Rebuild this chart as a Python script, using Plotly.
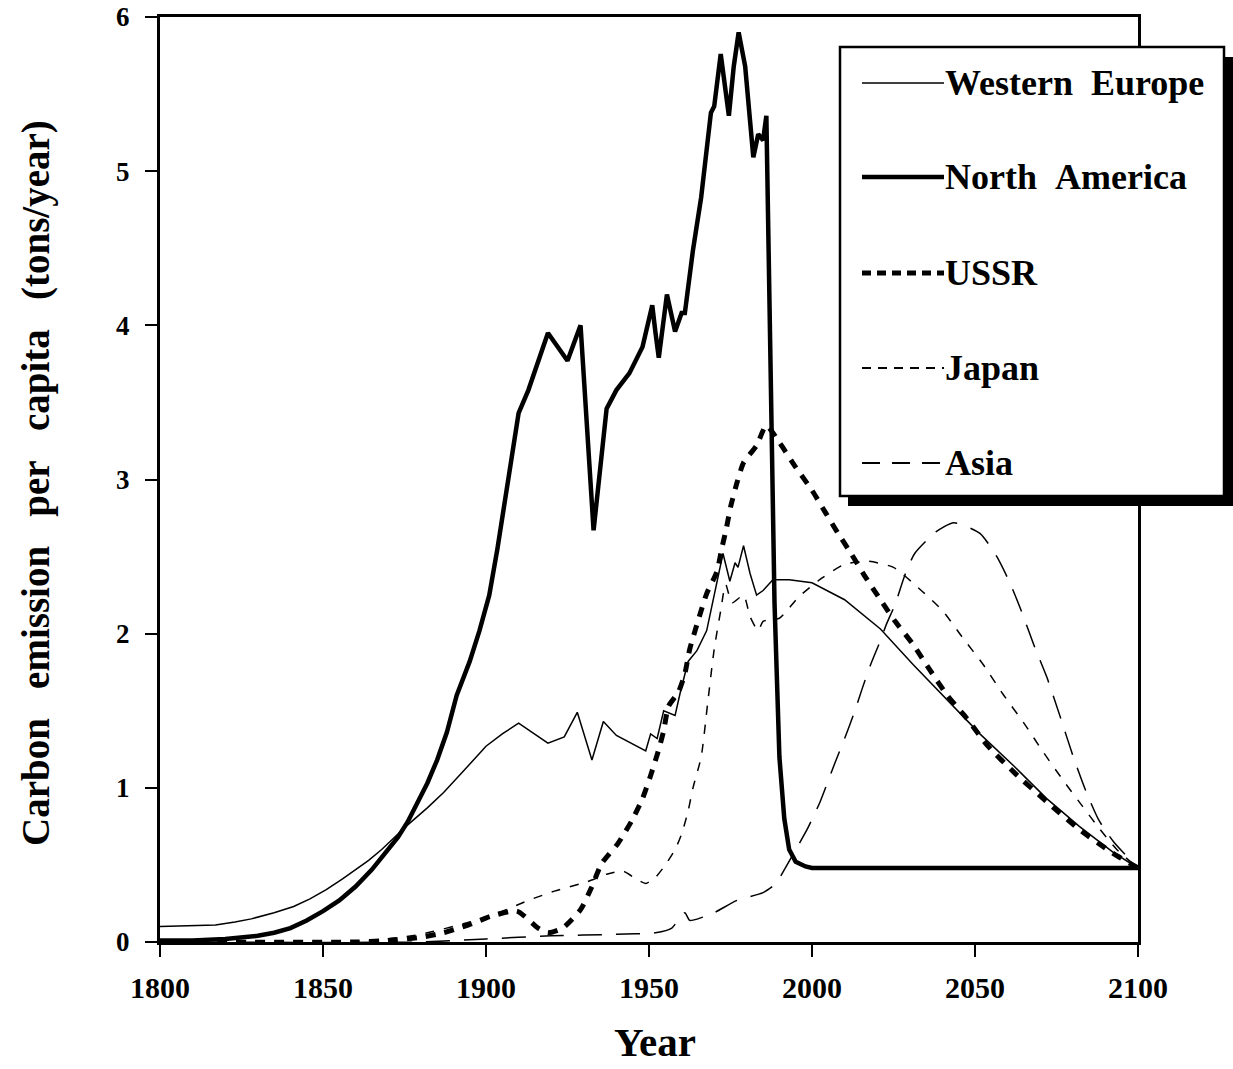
import plotly.graph_objects as go

# Per-capita carbon emission (tons/year), historical and projected
we_years = [1800, 1810, 1817, 1823, 1828, 1835, 1841, 1846, 1851, 1856, 1860, 1864, 1868, 1872,
            1876, 1882, 1887, 1894, 1900, 1905, 1910, 1919, 1924, 1928,
            1932.5, 1936, 1940, 1949, 1950.5, 1952.5, 1954.5, 1958, 1959.5, 1962, 1964.7, 1967.7,
            1970.2, 1972.7, 1974.8, 1976.4, 1977.3, 1979, 1981, 1983, 1985, 1988, 1993, 2000,
            2010, 2021, 2031, 2041, 2051.5, 2062, 2072, 2082, 2092.5, 2100]
we_vals = [0.1, 0.105, 0.11, 0.13, 0.15, 0.19, 0.23, 0.28, 0.34, 0.41, 0.47, 0.53, 0.6, 0.68,
           0.76, 0.87, 0.97, 1.13, 1.27, 1.35, 1.42, 1.29, 1.33, 1.49,
           1.18, 1.43, 1.34, 1.24, 1.35, 1.32, 1.5, 1.47, 1.61, 1.82, 1.89, 2.02,
           2.26, 2.52, 2.34, 2.46, 2.43, 2.57, 2.39, 2.25, 2.28, 2.35, 2.35, 2.33,
           2.22, 2.03, 1.8, 1.58, 1.35, 1.14, 0.93, 0.75, 0.58, 0.48]

na_years = [1800, 1810, 1820, 1830, 1835, 1840, 1845, 1850, 1855, 1860, 1865, 1870, 1873, 1876,
            1879, 1882, 1885, 1888, 1891, 1895, 1898, 1901, 1903.5, 1906, 1908, 1910, 1913, 1919,
            1925, 1929, 1933, 1937, 1940, 1944, 1948, 1951, 1952,
            1953, 1955.5, 1958, 1960, 1961, 1963.5, 1966, 1969, 1970, 1972, 1974.5, 1976, 1977.5,
            1979.5, 1982, 1983.5, 1985, 1986, 1986.5, 1987.5, 1988.5, 1990, 1991.5, 1993, 1995,
            1998, 2000, 2100]
na_vals = [0.01, 0.01, 0.02, 0.04, 0.06, 0.09, 0.14, 0.2, 0.27, 0.36, 0.47, 0.6, 0.68, 0.78,
           0.9, 1.03, 1.18, 1.36, 1.6, 1.82, 2.02, 2.25, 2.55, 2.89, 3.15, 3.43, 3.58, 3.95,
           3.77, 4.0, 2.67, 3.46, 3.58, 3.69, 3.86, 4.13, 3.95,
           3.79, 4.2, 3.96, 4.08, 4.08, 4.49, 4.83, 5.38, 5.42, 5.76, 5.36, 5.68, 5.9,
           5.68, 5.09, 5.24, 5.2, 5.36, 4.8, 3.5, 2.2, 1.2, 0.8, 0.6, 0.52,
           0.49, 0.48, 0.48]

ussr_years = [1800, 1860, 1870, 1880, 1887, 1894.5, 1902, 1909.5, 1916, 1919, 1923.5, 1929, 1932.5,
              1935.5, 1940.5, 1944.8, 1948, 1950.5, 1953, 1954.5, 1956, 1959, 1961, 1962.5, 1965,
              1967.7, 1970.8, 1972.3, 1973.8, 1975, 1977, 1979, 1983, 1986, 1990, 1995, 2000, 2004,
              2008, 2012, 2016, 2021, 2025.5, 2031, 2036, 2041.5, 2047.5, 2054, 2062, 2072, 2082,
              2092, 2100]
ussr_vals = [0.0, 0.0, 0.01, 0.03, 0.06, 0.11, 0.17, 0.2, 0.09, 0.06, 0.09, 0.21, 0.36,
             0.51, 0.64, 0.79, 0.93, 1.08, 1.25, 1.37, 1.53, 1.62, 1.74, 1.9, 2.08,
             2.26, 2.4, 2.55, 2.69, 2.82, 2.98, 3.11, 3.22, 3.35, 3.24, 3.08, 2.93, 2.79,
             2.65, 2.52, 2.38, 2.22, 2.08, 1.93, 1.77, 1.6, 1.45, 1.27, 1.1, 0.91, 0.73,
             0.58, 0.48]

japan_years = [1800, 1860, 1880, 1895, 1905, 1913, 1921, 1931, 1937, 1942, 1946, 1949, 1952, 1955,
               1958, 1960, 1962, 1963.5, 1966, 1968, 1970, 1972, 1973.5, 1975.5, 1979, 1981, 1983.5,
               1985, 1990, 1996, 2003, 2010, 2017, 2025, 2033, 2040, 2046, 2052.5, 2058.5, 2065,
               2071, 2077, 2083, 2088, 2093.5, 2100]
japan_vals = [0.0, 0.0, 0.05, 0.13, 0.2, 0.27, 0.33, 0.39, 0.44, 0.46, 0.41, 0.38, 0.42, 0.5,
              0.6, 0.7, 0.85, 1.0, 1.2, 1.55, 1.9, 2.15, 2.32, 2.2, 2.25, 2.11, 2.02,
              2.08, 2.1, 2.24, 2.36, 2.45, 2.47, 2.43, 2.29, 2.15, 1.98, 1.8, 1.61, 1.42,
              1.23, 1.05, 0.88, 0.74, 0.6, 0.48]

asia_years = [1800, 1880, 1900, 1920, 1940, 1952, 1957, 1959.5, 1961, 1962.5, 1965, 1970, 1977,
              1985, 1989, 1991, 1994.5, 1998.5, 2002.5, 2007, 2010, 2013, 2015.5, 2018, 2020.5,
              2023, 2025.5, 2028.5, 2031.5, 2038, 2043.5, 2051.5, 2056.7, 2060.7, 2063.8, 2068,
              2072, 2076, 2080, 2084, 2088, 2092.5, 2100]
asia_vals = [0.0, 0.0, 0.02, 0.04, 0.05, 0.06, 0.09, 0.16, 0.19, 0.14, 0.15, 0.19, 0.27,
             0.32, 0.38, 0.45, 0.58, 0.73, 0.91, 1.16, 1.32, 1.49, 1.65, 1.8, 1.93,
             2.07, 2.19, 2.38, 2.52, 2.66, 2.72, 2.65, 2.5, 2.33, 2.17, 1.93,
             1.72, 1.47, 1.21, 0.98, 0.79, 0.65, 0.48]

region_names = ["Western\u00a0\u00a0Europe", "North\u00a0\u00a0America", "USSR", "Japan", "Asia"]
x_ticks = [1800, 1850, 1900, 1950, 2000, 2050, 2100]
y_ticks = [0, 1, 2, 3, 4, 5, 6]

FONT = "Liberation Serif"

# line style per region: (width, dash, spline?)
styles = [
    (1.5, "solid", False),
    (4.5, "solid", False),
    (5.0, "10px,9px", True),
    (1.5, "9px,10px", True),
    (1.5, "24px,14px", True),
]
series = [(we_years, we_vals), (na_years, na_vals), (ussr_years, ussr_vals),
          (japan_years, japan_vals), (asia_years, asia_vals)]

fig = go.Figure()
for name, (xs, ys), (w, d, smooth) in zip(region_names, series, styles):
    fig.add_trace(go.Scatter(
        x=xs, y=ys, mode="lines", name=name, showlegend=False,
        line=dict(color="black", width=w, dash=d,
                  shape="spline" if smooth else "linear",
                  smoothing=0.6 if smooth else None),
    ))

axis_common = dict(
    showgrid=False, zeroline=False, showline=True, linecolor="black", linewidth=3,
    mirror=True, ticks="outside", ticklen=12, tickwidth=1.5, tickcolor="black",
    automargin=False,
)
fig.update_xaxes(range=[1800, 2100], tickvals=x_ticks, ticklabelstandoff=5,
                 tickfont=dict(family=FONT, size=30, color="black", weight="bold"),
                 **axis_common)
fig.update_yaxes(range=[0, 6], tickvals=y_ticks, ticklabelstandoff=10,
                 tickfont=dict(family=FONT, size=27, color="black", weight="bold"),
                 **axis_common)

L, R, T, B = 160, 1138, 17, 942
W, H = 1233, 1069


def px(x):
    return (x - L) / (R - L)


def py(y):
    return (B - y) / (B - T)


shapes = []
# legend box with drop shadow
shapes.append(dict(type="rect", xref="paper", yref="paper",
                   x0=px(848), x1=px(1233), y0=py(506), y1=py(57),
                   fillcolor="black", line=dict(width=0), layer="above"))
shapes.append(dict(type="rect", xref="paper", yref="paper",
                   x0=px(840), x1=px(1224), y0=py(496), y1=py(47),
                   fillcolor="white", line=dict(color="black", width=2.5), layer="above"))

legend_rows = [83, 177, 273, 368, 463]
legend_styles = [
    (1.5, "solid"),
    (4.5, "solid"),
    (5.0, "9px,6px"),
    (1.8, "9px,7px"),
    (1.8, "18px,12px"),
]
annotations = []
for name, yy, (w, d) in zip(region_names, legend_rows, legend_styles):
    shapes.append(dict(type="line", xref="paper", yref="paper",
                       x0=px(862), x1=px(944), y0=py(yy), y1=py(yy),
                       line=dict(color="black", width=w, dash=d), layer="above"))
    annotations.append(dict(xref="paper", yref="paper", x=px(943), y=py(yy),
                            text=name, showarrow=False, xanchor="left", yanchor="middle",
                            font=dict(family=FONT, size=36, color="black", weight="bold")))

annotations.append(dict(
    xref="paper", yref="paper", x=px(36), y=py(483), textangle=-90,
    text="Carbon\u00a0\u00a0\u00a0emission\u00a0\u00a0\u00a0per\u00a0\u00a0\u00a0capita\u00a0\u00a0\u00a0(tons/year)",
    showarrow=False, xanchor="center", yanchor="middle",
    font=dict(family=FONT, size=39, color="black", weight="bold")))
annotations.append(dict(
    xref="paper", yref="paper", x=px(655), y=py(1042), text="Year",
    showarrow=False, xanchor="center", yanchor="middle",
    font=dict(family=FONT, size=41, color="black", weight="bold")))

fig.update_layout(
    width=W, height=H,
    margin=dict(l=L, r=W - R, t=T, b=H - B, autoexpand=False),
    paper_bgcolor="white", plot_bgcolor="white",
    shapes=shapes, annotations=annotations,
    showlegend=False,
)

fig.write_html("out.html")
